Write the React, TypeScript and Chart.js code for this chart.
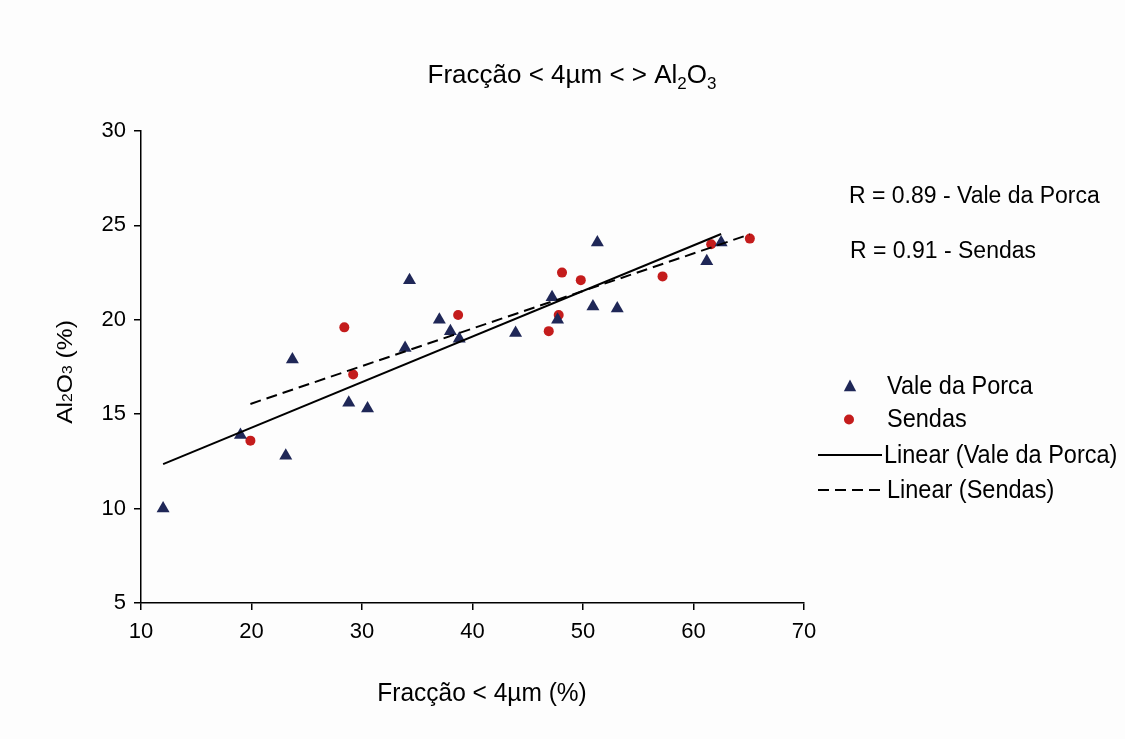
import React, { useEffect, useRef } from 'react';
import { Chart, registerables } from 'chart.js';

Chart.register(...registerables);

// ---- data ----
const valeX = [12.0, 19.0, 23.1, 23.7, 28.8, 30.5, 33.9, 34.3, 37.0, 38.0, 38.8, 43.9, 47.2, 47.7, 50.9, 51.3, 53.1, 61.2, 62.5];
const valeY = [10.0, 13.9, 12.8, 17.9, 15.6, 15.3, 18.5, 22.1, 20.0, 19.4, 19.0, 19.3, 21.2, 20.0, 20.7, 24.1, 20.6, 23.1, 24.1];
const sendasX = [19.9, 28.4, 29.2, 38.7, 46.9, 47.8, 48.1, 49.8, 57.2, 61.6, 65.1];
const sendasY = [13.6, 19.6, 17.1, 20.25, 19.4, 20.25, 22.5, 22.1, 22.3, 24.0, 24.3];
const xTicks = [10, 20, 30, 40, 50, 60, 70];
const yTicks = [5, 10, 15, 20, 25, 30];
const seriesNames = ['Vale da Porca', 'Sendas'];
const rLabels = ['R = 0.89 - Vale da Porca', 'R = 0.91 - Sendas'];

const NAVY = '#1f2757';
const RED = '#c41c1c';
const FONT = '"Liberation Sans", Arial, sans-serif';

function fit(xs: number[], ys: number[]) {
  const n = xs.length;
  const mx = xs.reduce((a, b) => a + b, 0) / n;
  const my = ys.reduce((a, b) => a + b, 0) / n;
  let sxy = 0, sxx = 0;
  for (let i = 0; i < n; i++) {
    sxy += (xs[i] - mx) * (ys[i] - my);
    sxx += (xs[i] - mx) ** 2;
  }
  const b = sxy / sxx;
  const a = my - b * mx;
  const lo = Math.min(...xs), hi = Math.max(...xs);
  return [{ x: lo, y: a + b * lo }, { x: hi, y: a + b * hi }];
}

type Seg = { t: string; sub?: boolean; small?: boolean };

function drawSegs(ctx: CanvasRenderingContext2D, segs: Seg[], size: number, cx: number, cy: number, rot: number, stretch: number) {
  ctx.save();
  ctx.translate(cx, cy);
  if (rot) ctx.rotate(rot);
  ctx.scale(rot ? stretch : 1, rot ? 1 : stretch);
  ctx.textBaseline = 'alphabetic';
  ctx.textAlign = 'left';
  ctx.fillStyle = '#000';
  const widths = segs.map((s) => {
    ctx.font = `${s.sub || s.small ? Math.round(size * 0.65) : size}px ${FONT}`;
    return ctx.measureText(s.t).width;
  });
  const total = widths.reduce((a, b) => a + b, 0);
  let x = -total / 2;
  const base = size * 0.36;
  segs.forEach((s, i) => {
    ctx.font = `${s.sub || s.small ? Math.round(size * 0.65) : size}px ${FONT}`;
    ctx.fillText(s.t, x, base + (s.sub ? size * 0.22 : 0));
    x += widths[i];
  });
  ctx.restore();
}

function drawLeft(ctx: CanvasRenderingContext2D, text: string, size: number, x: number, cy: number) {
  ctx.save();
  ctx.translate(x, cy);
  ctx.scale(1, 1.08);
  ctx.font = `${size}px ${FONT}`;
  ctx.fillStyle = '#000';
  ctx.textAlign = 'left';
  ctx.textBaseline = 'middle';
  ctx.fillText(text, 0, 1);
  ctx.restore();
}

const decorations = {
  id: 'decorations',
  beforeDraw(chart: any) {
    const ctx = chart.ctx as CanvasRenderingContext2D;
    ctx.save();
    ctx.fillStyle = '#fdfdfd';
    ctx.fillRect(0, 0, chart.width, chart.height);
    ctx.restore();
  },
  afterDraw(chart: any) {
    const ctx = chart.ctx as CanvasRenderingContext2D;
    // title
    drawSegs(ctx, [{ t: 'Fracção < 4µm < > Al' }, { t: '2', sub: true }, { t: 'O' }, { t: '3', sub: true }], 26, 572, 74, 0, 1.0);
    // x axis title
    drawSegs(ctx, [{ t: 'Fracção < 4µm (%)' }], 24.5, 482, 692, 0, 1.02);
    // y axis title
    drawSegs(ctx, [{ t: 'Al' }, { t: '2', small: true }, { t: 'O' }, { t: '3', small: true }, { t: ' (%)' }], 22, 64, 372, -Math.PI / 2, 1.12);

    // R labels
    drawLeft(ctx, rLabels[0], 23, 849, 195);
    drawLeft(ctx, rLabels[1], 23, 850, 250);

    // legend
    ctx.save();
    const tx = 850, ty = 386, tr = 6.5;
    ctx.fillStyle = NAVY;
    ctx.beginPath();
    ctx.moveTo(tx, ty - tr);
    ctx.lineTo(tx + tr * 0.95, ty + tr * 0.8);
    ctx.lineTo(tx - tr * 0.95, ty + tr * 0.8);
    ctx.closePath();
    ctx.fill();
    ctx.fillStyle = RED;
    ctx.beginPath();
    ctx.arc(849, 419.5, 5, 0, Math.PI * 2);
    ctx.fill();
    ctx.strokeStyle = '#000';
    ctx.lineWidth = 2;
    ctx.beginPath();
    ctx.moveTo(818, 455);
    ctx.lineTo(882, 455);
    ctx.stroke();
    ctx.setLineDash([11, 6]);
    ctx.beginPath();
    ctx.moveTo(818, 490);
    ctx.lineTo(882, 490);
    ctx.stroke();
    ctx.restore();

    drawLeft(ctx, seriesNames[0], 23.5, 887, 386);
    drawLeft(ctx, seriesNames[1], 23.5, 887, 419);
    drawLeft(ctx, `Linear (${seriesNames[0]})`, 23.5, 884, 455);
    drawLeft(ctx, `Linear (${seriesNames[1]})`, 23.5, 887, 490);
  },
};

export default function App() {
  const ref = useRef<HTMLCanvasElement | null>(null);

  useEffect(() => {
    if (!ref.current) return;
    const vale = valeX.map((x, i) => ({ x, y: valeY[i] }));
    const sendas = sendasX.map((x, i) => ({ x, y: sendasY[i] }));
    const chart = new Chart(ref.current, {
      type: 'scatter',
      data: {
        datasets: [
          {
            label: `Linear (${seriesNames[0]})`,
            type: 'line',
            data: fit(valeX, valeY),
            borderColor: '#000',
            borderWidth: 2,
            pointRadius: 0,
            showLine: true,
            fill: false,
            order: 0,
          } as any,
          {
            label: `Linear (${seriesNames[1]})`,
            type: 'line',
            data: fit(sendasX, sendasY),
            borderColor: '#000',
            borderWidth: 2,
            borderDash: [11, 6],
            pointRadius: 0,
            showLine: true,
            fill: false,
            order: 0,
          } as any,
          {
            label: seriesNames[0],
            data: vale,
            pointStyle: 'triangle',
            pointRadius: 7.5,
            backgroundColor: NAVY,
            borderColor: NAVY,
            borderWidth: 0,
            order: 1,
          },
          {
            label: seriesNames[1],
            data: sendas,
            pointStyle: 'circle',
            pointRadius: 5,
            backgroundColor: RED,
            borderColor: RED,
            borderWidth: 0,
            order: 1,
          },
        ],
      },
      options: {
        responsive: false,
        animation: false,
        events: [],
        layout: { padding: { top: 131, right: 321, left: 0, bottom: 0 } },
        plugins: {
          legend: { display: false },
          title: { display: false },
          tooltip: { enabled: false },
        },
        scales: {
          x: {
            type: 'linear',
            min: 10,
            max: 70,
            afterBuildTicks: (s: any) => {
              s.ticks = xTicks.map((v) => ({ value: v }));
            },
            afterFit: (s: any) => {
              s.height = 136;
            },
            ticks: { color: '#000', font: { family: FONT, size: 22 }, padding: 9 },
            grid: { display: true, drawOnChartArea: false, drawTicks: true, tickLength: 7, color: '#000', lineWidth: 1.5 },
            border: { display: true, color: '#000', width: 1.5 },
          },
          y: {
            type: 'linear',
            min: 5,
            max: 30,
            afterBuildTicks: (s: any) => {
              s.ticks = yTicks.map((v) => ({ value: v }));
            },
            afterFit: (s: any) => {
              s.width = 141;
            },
            ticks: { color: '#000', font: { family: FONT, size: 22 }, padding: 8 },
            grid: { display: true, drawOnChartArea: false, drawTicks: true, tickLength: 7, color: '#000', lineWidth: 1.5 },
            border: { display: true, color: '#000', width: 1.5 },
          },
        },
      },
      plugins: [decorations],
    });
    return () => chart.destroy();
  }, []);

  return (
    <div style={{ position: 'fixed', left: 0, top: 0, width: 1125, height: 739 }}>
      <canvas ref={ref} width={1125} height={739} />
    </div>
  );
}
